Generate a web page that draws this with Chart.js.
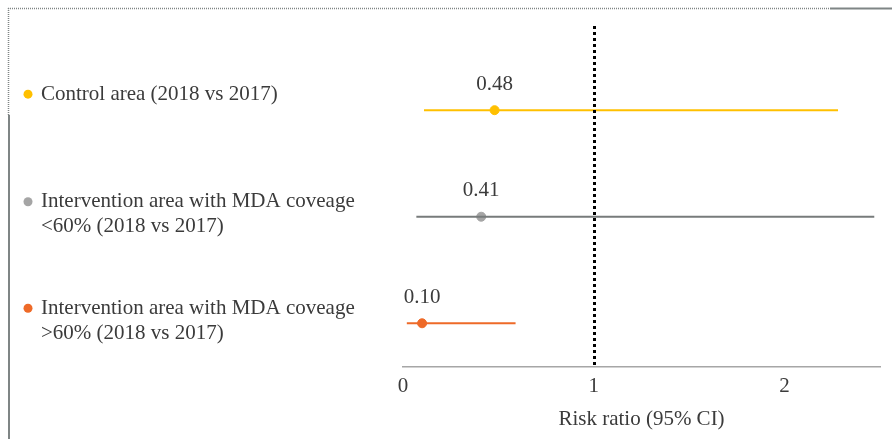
<!DOCTYPE html>
<html>
<head>
<meta charset="utf-8">
<script src="https://cdn.jsdelivr.net/npm/chart.js@4/dist/chart.umd.min.js"></script>
<style>
    html, body { margin: 0; padding: 0; background: #ffffff; }
    #wrap { position: relative; width: 892px; height: 439px; }
</style>
</head>
<body>
<div id="wrap"><canvas id="forest"></canvas></div>
<script>
// Forest plot data (risk ratio with 95% CI)
const groupLabels = [
    ['Control area (2018 vs 2017)'],
    ['Intervention area with MDA coveage', '<60% (2018 vs 2017)'],
    ['Intervention area with MDA coveage', '>60% (2018 vs 2017)']
];
const riskRatios = [0.48, 0.41, 0.10];
const ciLower = [0.11, 0.07, 0.02];
const ciUpper = [2.28, 2.47, 0.59];
const groupColors = ['#FFC000', '#A5A5A5', '#EE6A28'];
const lineColors = ['#FFC000', '#777B7B', '#EE6A28'];
const xTicks = [0, 1, 2];
const referenceValue = 1;

const serif = "'Liberation Serif', 'DejaVu Serif', serif";
const textColor = '#3b3b3b';

// Build datasets: one CI line per group plus the point estimates
const datasets = [];
riskRatios.forEach((rr, i) => {
    datasets.push({
        type: 'line',
        data: [{ x: ciLower[i], y: i }, { x: ciUpper[i], y: i }],
        borderColor: lineColors[i],
        borderWidth: 2,
        pointRadius: 0,
        showLine: true,
        fill: false
    });
});
datasets.push({
    type: 'scatter',
    data: riskRatios.map((rr, i) => ({ x: rr, y: i })),
    backgroundColor: groupColors,
    borderColor: groupColors,
    pointRadius: 4.5,
    pointHoverRadius: 4.5
});

// Frame, reference line, left labels and value labels
const forestDecor = {
    id: 'forestDecor',
    beforeDraw(chart) {
        const ctx = chart.ctx;
        ctx.save();
        ctx.strokeStyle = '#7f8585';
        ctx.lineWidth = 1.5;
        ctx.setLineDash([1, 1]);
        ctx.beginPath();
        ctx.moveTo(8, 8.5); ctx.lineTo(830, 8.5);
        ctx.moveTo(8.5, 8); ctx.lineTo(8.5, 115);
        ctx.stroke();
        ctx.setLineDash([]);
        ctx.lineWidth = 2;
        ctx.beginPath();
        ctx.moveTo(830, 8.5); ctx.lineTo(892, 8.5);
        ctx.moveTo(9, 115); ctx.lineTo(9, 439);
        ctx.stroke();
        ctx.restore();
    },
    afterDatasetsDraw(chart) {
        const ctx = chart.ctx;
        const xs = chart.scales.x;
        const ys = chart.scales.y;
        const area = chart.chartArea;
        ctx.save();

        // dotted reference line at RR = 1
        const xr = Math.round(xs.getPixelForValue(referenceValue)) + 0.5;
        ctx.strokeStyle = '#000000';
        ctx.lineWidth = 3;
        ctx.setLineDash([3, 3]);
        ctx.beginPath();
        ctx.moveTo(xr, area.top);
        ctx.lineTo(xr, area.bottom);
        ctx.stroke();
        ctx.setLineDash([]);

        ctx.font = '21px ' + serif;
        ctx.fillStyle = textColor;
        ctx.textBaseline = 'middle';

        groupLabels.forEach((lines, i) => {
            const yp = ys.getPixelForValue(i);
            const y0 = lines.length === 1 ? yp - 16 : yp - 15;
            // legend dot
            ctx.fillStyle = groupColors[i];
            ctx.beginPath();
            ctx.arc(28, y0, 4.5, 0, Math.PI * 2);
            ctx.fill();
            ctx.fillStyle = textColor;
            ctx.textAlign = 'left';
            lines.forEach((t, k) => ctx.fillText(t, 41, y0 + k * 25));

            // value label above the point
            ctx.textAlign = 'center';
            ctx.fillText(riskRatios[i].toFixed(2), xs.getPixelForValue(riskRatios[i]), yp - 26);
        });
        ctx.restore();
    }
};

new Chart(document.getElementById('forest'), {
    type: 'scatter',
    data: { datasets: datasets },
    plugins: [forestDecor],
    options: {
        responsive: true,
        maintainAspectRatio: false,
        animation: false,
        layout: { padding: { left: 403, right: 12, top: 26, bottom: 7 } },
        plugins: {
            legend: { display: false },
            tooltip: { enabled: false }
        },
        scales: {
            x: {
                type: 'linear',
                min: 0,
                max: 2.5,
                afterBuildTicks: (axis) => { axis.ticks = xTicks.map(v => ({ value: v })); },
                grid: { display: false, drawTicks: false },
                border: { display: true, color: '#a6a6a6', width: 1.5 },
                ticks: {
                    color: textColor,
                    padding: 11,
                    font: { family: serif, size: 21, lineHeight: 0.85 }
                },
                title: {
                    display: true,
                    text: 'Risk ratio (95% CI)',
                    color: textColor,
                    padding: { top: 0, bottom: 0 },
                    font: { family: serif, size: 21 }
                }
            },
            y: {
                type: 'linear',
                display: false,
                reverse: true,
                min: -0.79,
                max: 2.41
            }
        }
    }
});
</script>
</body>
</html>
